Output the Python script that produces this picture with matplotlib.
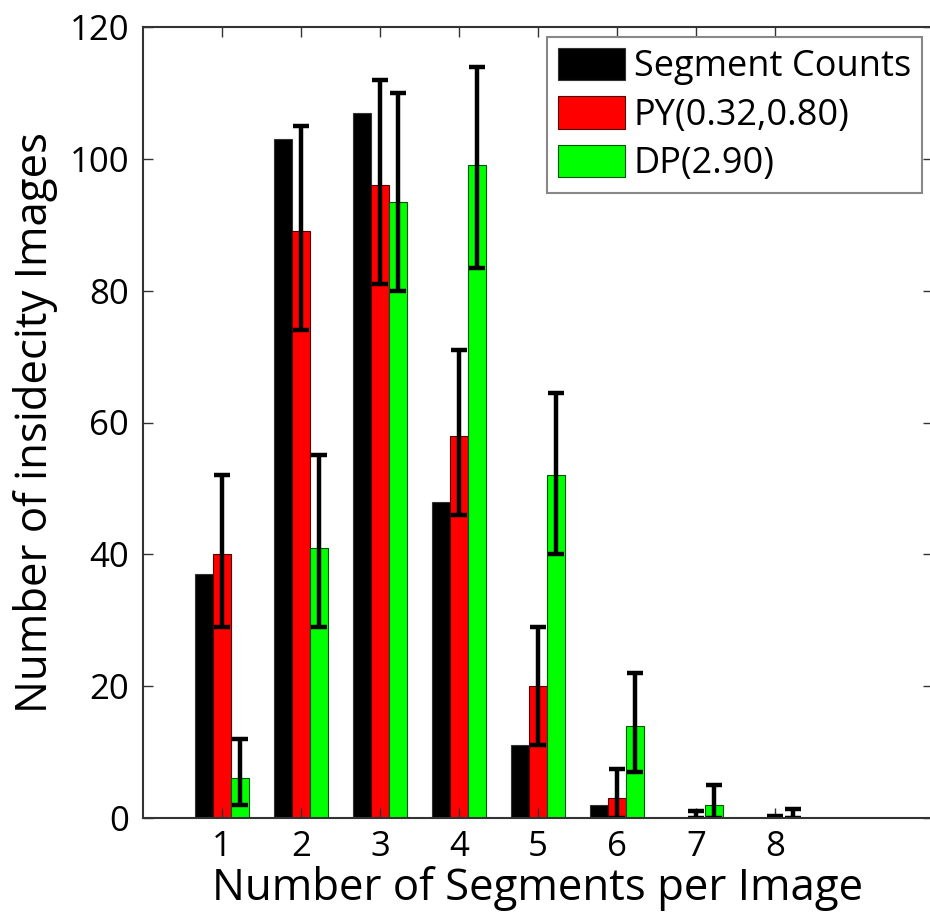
import numpy as np
import matplotlib
matplotlib.use('Agg')
import matplotlib.pyplot as plt

plt.rcParams['font.family'] = ['Open Sans', 'DejaVu Sans']

# data
segments = [1, 2, 3, 4, 5, 6, 7, 8]
counts = [37, 103, 107, 48, 11, 2, 0, 0]
py_mean = [40, 89, 96, 58, 20, 3, 0, 0]
py_lo = [29, 74, 81, 46, 11, 0, 0, 0]
py_hi = [52, 105, 112, 71, 29, 7.5, 1, 0.3]
dp_mean = [6, 41, 93.5, 99, 52, 14, 2, 0]
dp_lo = [2, 29, 80, 83.5, 40, 7, 0, 0]
dp_hi = [12, 55, 110, 114, 64.5, 22, 5, 1.4]

labels = ['Segment Counts', 'PY(0.32,0.80)', 'DP(2.90)']

x = np.array(segments, dtype=float)
w = 0.225

fig = plt.figure(figsize=(9.3, 9.17), dpi=100)
ax = fig.add_axes([143 / 930, 1 - 818 / 917, 790 / 930, 791 / 917])

ax.bar(x - w, counts, w, color='black', edgecolor='#333333', linewidth=0.8, label=labels[0])
ax.bar(x, py_mean, w, color='#ff0000', edgecolor='#550000', linewidth=0.8, label=labels[1])
ax.bar(x + w, dp_mean, w, color='#00ff00', edgecolor='#005500', linewidth=0.8, label=labels[2])

py_err = [np.array(py_mean) - np.array(py_lo), np.array(py_hi) - np.array(py_mean)]
dp_err = [np.array(dp_mean) - np.array(dp_lo), np.array(dp_hi) - np.array(dp_mean)]
ax.errorbar(x, py_mean, yerr=py_err, fmt='none', ecolor='black', elinewidth=3.2,
            capsize=6, capthick=3.2)
ax.errorbar(x + w, dp_mean, yerr=dp_err, fmt='none', ecolor='black', elinewidth=3.2,
            capsize=6, capthick=3.2)

ax.set_xlim(0, 10)
ax.set_ylim(0, 120)
ax.set_xticks(segments)
ax.set_yticks(range(0, 121, 20))
ax.tick_params(direction='in', length=7, width=1, top=True, right=True,
               labelsize=25, color='#333333')
ax.tick_params(axis='x', pad=9)
ax.tick_params(axis='y', pad=10)
for s in ax.spines.values():
    s.set_linewidth(1.5)
    s.set_color('#333333')

ax.set_xlabel('Number of Segments per Image', fontsize=31.5, labelpad=1)
ax.set_ylabel('Number of insidecity Images', fontsize=31.5, labelpad=8)

leg = ax.legend(loc='upper right', bbox_to_anchor=(1 - 11 / 790, 1 - 10 / 791),
                borderaxespad=0, fontsize=26, fancybox=False, framealpha=1,
                edgecolor='#888888', handlelength=1.85, handleheight=1.0,
                labelspacing=0.3, handletextpad=0.25, borderpad=0.3)
leg.get_frame().set_linewidth(1.5)

fig.savefig('out.png', dpi=100)
